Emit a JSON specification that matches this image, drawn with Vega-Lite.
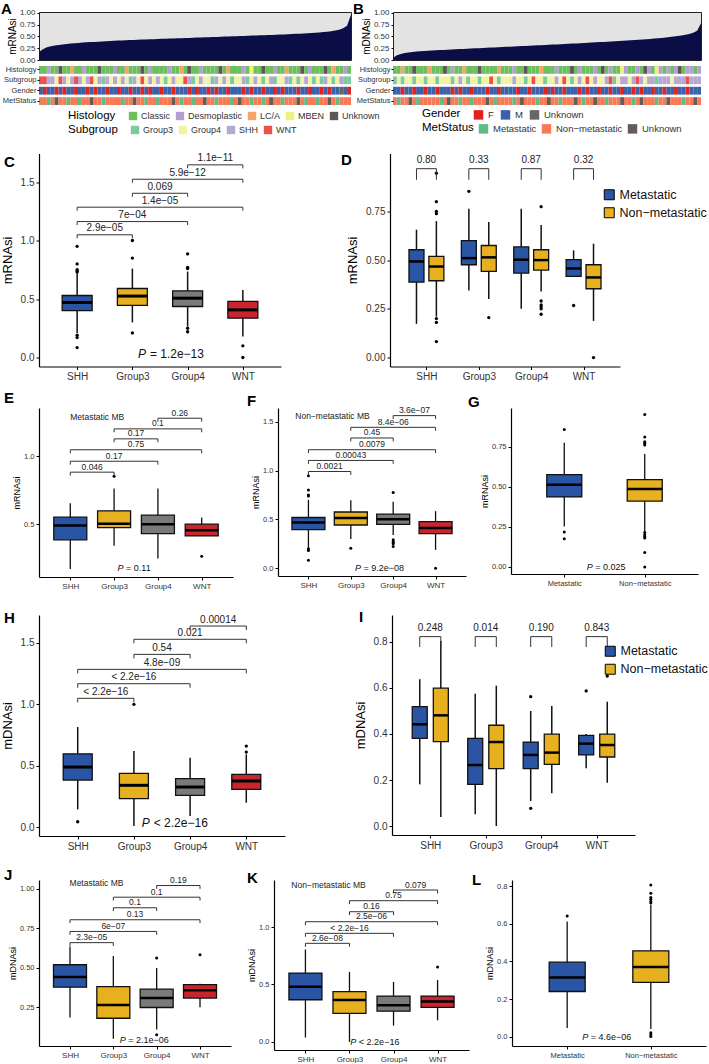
{
"$schema":"https://vega.github.io/schema/vega-lite/v6.json",
"padding":{"left":0,"top":1,"right":0,"bottom":0},
"spacing":0,
"config":{"font":"Liberation Sans","view":{"stroke":null},
"axis":{"domainColor":"#000","domainWidth":1.2,"tickColor":"#000","tickWidth":1,"tickSize":3,"labelColor":"#333","titleColor":"#000","titleFontWeight":"normal","grid":false,"labelPadding":2,"titlePadding":3},
"title":{"fontSize":15,"fontWeight":"bold","anchor":"start","frame":"group","color":"#000","offset":0,"baseline":"bottom"},
"legend":{"titleFontWeight":"normal"}},
"datasets":{
"sa":[{"i":0,"v":0.17,"h":"C","s":"W","g":"M","m":"N"},{"i":1,"v":0.23,"h":"C","s":"W","g":"F","m":"N"},{"i":2,"v":0.27,"h":"D","s":"S","g":"M","m":"M"},{"i":3,"v":0.29,"h":"C","s":"S","g":"M","m":"N"},{"i":4,"v":0.31,"h":"C","s":"4","g":"F","m":"U"},{"i":5,"v":0.32,"h":"U","s":"W","g":"M","m":"N"},{"i":6,"v":0.33,"h":"C","s":"S","g":"F","m":"N"},{"i":7,"v":0.34,"h":"C","s":"4","g":"M","m":"M"},{"i":8,"v":0.35,"h":"L","s":"S","g":"M","m":"N"},{"i":9,"v":0.355,"h":"C","s":"W","g":"F","m":"N"},
{"i":10,"v":0.36,"h":"C","s":"S","g":"M","m":"M"},{"i":11,"v":0.37,"h":"D","s":"4","g":"M","m":"N"},{"i":12,"v":0.375,"h":"C","s":"S","g":"F","m":"N"},{"i":13,"v":0.38,"h":"C","s":"W","g":"M","m":"U"},{"i":14,"v":0.385,"h":"C","s":"4","g":"F","m":"N"},{"i":15,"v":0.39,"h":"U","s":"S","g":"M","m":"N"},{"i":16,"v":0.395,"h":"C","s":"3","g":"M","m":"M"},{"i":17,"v":0.4,"h":"C","s":"S","g":"F","m":"N"},{"i":18,"v":0.405,"h":"C","s":"4","g":"M","m":"N"},{"i":19,"v":0.41,"h":"D","s":"S","g":"M","m":"N"},
{"i":20,"v":0.413,"h":"C","s":"4","g":"F","m":"N"},{"i":21,"v":0.416,"h":"C","s":"S","g":"M","m":"M"},{"i":22,"v":0.42,"h":"L","s":"4","g":"M","m":"N"},{"i":23,"v":0.423,"h":"C","s":"3","g":"F","m":"N"},{"i":24,"v":0.426,"h":"C","s":"S","g":"M","m":"U"},{"i":25,"v":0.43,"h":"C","s":"4","g":"M","m":"N"},{"i":26,"v":0.433,"h":"U","s":"W","g":"F","m":"N"},{"i":27,"v":0.436,"h":"C","s":"4","g":"M","m":"M"},{"i":28,"v":0.44,"h":"D","s":"S","g":"F","m":"N"},{"i":29,"v":0.443,"h":"C","s":"4","g":"M","m":"N"},
{"i":30,"v":0.446,"h":"C","s":"S","g":"M","m":"M"},{"i":31,"v":0.449,"h":"C","s":"4","g":"F","m":"N"},{"i":32,"v":0.452,"h":"C","s":"3","g":"M","m":"N"},{"i":33,"v":0.455,"h":"D","s":"4","g":"M","m":"N"},{"i":34,"v":0.458,"h":"C","s":"S","g":"F","m":"U"},{"i":35,"v":0.461,"h":"C","s":"4","g":"M","m":"N"},{"i":36,"v":0.464,"h":"L","s":"4","g":"M","m":"M"},{"i":37,"v":0.467,"h":"C","s":"W","g":"M","m":"N"},{"i":38,"v":0.47,"h":"U","s":"S","g":"F","m":"N"},{"i":39,"v":0.473,"h":"C","s":"3","g":"M","m":"M"},
{"i":40,"v":0.476,"h":"C","s":"4","g":"F","m":"N"},{"i":41,"v":0.479,"h":"D","s":"S","g":"M","m":"N"},{"i":42,"v":0.482,"h":"C","s":"4","g":"M","m":"U"},{"i":43,"v":0.485,"h":"C","s":"4","g":"F","m":"N"},{"i":44,"v":0.488,"h":"C","s":"3","g":"M","m":"N"},{"i":45,"v":0.491,"h":"C","s":"S","g":"F","m":"M"},{"i":46,"v":0.494,"h":"U","s":"4","g":"M","m":"N"},{"i":47,"v":0.497,"h":"C","s":"S","g":"M","m":"N"},{"i":48,"v":0.5,"h":"L","s":"4","g":"F","m":"N"},{"i":49,"v":0.503,"h":"C","s":"3","g":"M","m":"M"},
{"i":50,"v":0.506,"h":"C","s":"4","g":"M","m":"N"},{"i":51,"v":0.509,"h":"C","s":"4","g":"M","m":"U"},{"i":52,"v":0.512,"h":"D","s":"S","g":"F","m":"N"},{"i":53,"v":0.515,"h":"C","s":"3","g":"M","m":"N"},{"i":54,"v":0.518,"h":"M","s":"4","g":"F","m":"M"},{"i":55,"v":0.521,"h":"C","s":"S","g":"M","m":"N"},{"i":56,"v":0.524,"h":"C","s":"4","g":"M","m":"N"},{"i":57,"v":0.527,"h":"U","s":"3","g":"F","m":"M"},{"i":58,"v":0.53,"h":"C","s":"4","g":"M","m":"N"},{"i":59,"v":0.533,"h":"C","s":"S","g":"M","m":"U"},
{"i":60,"v":0.536,"h":"D","s":"3","g":"F","m":"N"},{"i":61,"v":0.54,"h":"C","s":"4","g":"M","m":"N"},{"i":62,"v":0.544,"h":"C","s":"4","g":"F","m":"M"},{"i":63,"v":0.548,"h":"L","s":"S","g":"M","m":"N"},{"i":64,"v":0.552,"h":"C","s":"3","g":"M","m":"N"},{"i":65,"v":0.556,"h":"C","s":"4","g":"M","m":"N"},{"i":66,"v":0.56,"h":"C","s":"3","g":"F","m":"U"},{"i":67,"v":0.565,"h":"U","s":"4","g":"M","m":"N"},{"i":68,"v":0.57,"h":"C","s":"S","g":"M","m":"M"},{"i":69,"v":0.575,"h":"D","s":"4","g":"F","m":"N"},
{"i":70,"v":0.58,"h":"C","s":"3","g":"M","m":"N"},{"i":71,"v":0.586,"h":"C","s":"4","g":"M","m":"M"},{"i":72,"v":0.593,"h":"C","s":"3","g":"F","m":"N"},{"i":73,"v":0.6,"h":"U","s":"S","g":"M","m":"N"},{"i":74,"v":0.61,"h":"C","s":"4","g":"F","m":"U"},{"i":75,"v":0.625,"h":"L","s":"3","g":"M","m":"N"},{"i":76,"v":0.645,"h":"C","s":"4","g":"M","m":"M"},{"i":77,"v":0.675,"h":"C","s":"S","g":"U","m":"N"},{"i":78,"v":0.73,"h":"D","s":"3","g":"M","m":"N"},{"i":79,"v":0.96,"h":"C","s":"3","g":"F","m":"N"}],
"sb":[{"i":0,"v":0.04,"h":"C","s":"3","g":"M","m":"N"},{"i":1,"v":0.1,"h":"C","s":"4","g":"M","m":"M"},{"i":2,"v":0.13,"h":"L","s":"3","g":"F","m":"N"},{"i":3,"v":0.15,"h":"C","s":"4","g":"M","m":"N"},{"i":4,"v":0.16,"h":"C","s":"4","g":"M","m":"U"},{"i":5,"v":0.17,"h":"U","s":"3","g":"F","m":"N"},{"i":6,"v":0.18,"h":"C","s":"4","g":"M","m":"M"},{"i":7,"v":0.185,"h":"C","s":"4","g":"M","m":"N"},{"i":8,"v":0.19,"h":"C","s":"3","g":"F","m":"N"},{"i":9,"v":0.195,"h":"L","s":"4","g":"M","m":"N"},
{"i":10,"v":0.2,"h":"C","s":"4","g":"M","m":"N"},{"i":11,"v":0.205,"h":"C","s":"3","g":"F","m":"N"},{"i":12,"v":0.21,"h":"C","s":"4","g":"M","m":"M"},{"i":13,"v":0.215,"h":"U","s":"4","g":"M","m":"N"},{"i":14,"v":0.22,"h":"C","s":"4","g":"M","m":"U"},{"i":15,"v":0.224,"h":"D","s":"3","g":"F","m":"N"},{"i":16,"v":0.228,"h":"C","s":"4","g":"M","m":"N"},{"i":17,"v":0.232,"h":"C","s":"S","g":"F","m":"M"},{"i":18,"v":0.236,"h":"L","s":"4","g":"M","m":"N"},{"i":19,"v":0.24,"h":"C","s":"3","g":"M","m":"N"},
{"i":20,"v":0.244,"h":"C","s":"4","g":"F","m":"M"},{"i":21,"v":0.248,"h":"C","s":"4","g":"M","m":"N"},{"i":22,"v":0.252,"h":"U","s":"3","g":"M","m":"N"},{"i":23,"v":0.256,"h":"C","s":"4","g":"M","m":"N"},{"i":24,"v":0.26,"h":"C","s":"4","g":"F","m":"U"},{"i":25,"v":0.264,"h":"C","s":"W","g":"M","m":"N"},{"i":26,"v":0.268,"h":"C","s":"4","g":"M","m":"M"},{"i":27,"v":0.272,"h":"L","s":"3","g":"F","m":"N"},{"i":28,"v":0.276,"h":"C","s":"4","g":"M","m":"N"},{"i":29,"v":0.28,"h":"C","s":"4","g":"M","m":"N"},
{"i":30,"v":0.284,"h":"C","s":"4","g":"M","m":"N"},{"i":31,"v":0.288,"h":"D","s":"S","g":"M","m":"M"},{"i":32,"v":0.292,"h":"C","s":"4","g":"F","m":"N"},{"i":33,"v":0.296,"h":"C","s":"4","g":"M","m":"U"},{"i":34,"v":0.3,"h":"U","s":"3","g":"M","m":"N"},{"i":35,"v":0.304,"h":"C","s":"4","g":"F","m":"N"},{"i":36,"v":0.308,"h":"C","s":"W","g":"M","m":"N"},{"i":37,"v":0.312,"h":"C","s":"4","g":"M","m":"M"},{"i":38,"v":0.316,"h":"L","s":"4","g":"M","m":"N"},{"i":39,"v":0.32,"h":"C","s":"3","g":"F","m":"N"},
{"i":40,"v":0.324,"h":"C","s":"4","g":"M","m":"U"},{"i":41,"v":0.328,"h":"C","s":"4","g":"F","m":"N"},{"i":42,"v":0.332,"h":"D","s":"S","g":"M","m":"N"},{"i":43,"v":0.336,"h":"C","s":"4","g":"M","m":"M"},{"i":44,"v":0.34,"h":"C","s":"W","g":"F","m":"N"},{"i":45,"v":0.344,"h":"C","s":"4","g":"M","m":"N"},{"i":46,"v":0.348,"h":"U","s":"3","g":"M","m":"N"},{"i":47,"v":0.352,"h":"C","s":"4","g":"M","m":"U"},{"i":48,"v":0.356,"h":"D","s":"S","g":"F","m":"N"},{"i":49,"v":0.36,"h":"C","s":"4","g":"M","m":"M"},
{"i":50,"v":0.365,"h":"C","s":"W","g":"F","m":"N"},{"i":51,"v":0.37,"h":"C","s":"4","g":"M","m":"N"},{"i":52,"v":0.375,"h":"D","s":"S","g":"M","m":"U"},{"i":53,"v":0.38,"h":"C","s":"4","g":"F","m":"N"},{"i":54,"v":0.385,"h":"U","s":"4","g":"M","m":"N"},{"i":55,"v":0.39,"h":"C","s":"S","g":"M","m":"M"},{"i":56,"v":0.395,"h":"D","s":"W","g":"F","m":"N"},{"i":57,"v":0.4,"h":"C","s":"3","g":"M","m":"N"},{"i":58,"v":0.405,"h":"C","s":"4","g":"M","m":"N"},{"i":59,"v":0.41,"h":"M","s":"S","g":"F","m":"U"},
{"i":60,"v":0.415,"h":"D","s":"S","g":"M","m":"N"},{"i":61,"v":0.42,"h":"C","s":"4","g":"M","m":"N"},{"i":62,"v":0.425,"h":"C","s":"S","g":"F","m":"M"},{"i":63,"v":0.43,"h":"D","s":"W","g":"M","m":"N"},{"i":64,"v":0.436,"h":"C","s":"S","g":"F","m":"U"},{"i":65,"v":0.442,"h":"U","s":"4","g":"M","m":"N"},{"i":66,"v":0.448,"h":"D","s":"S","g":"M","m":"N"},{"i":67,"v":0.455,"h":"C","s":"S","g":"F","m":"N"},{"i":68,"v":0.462,"h":"M","s":"3","g":"M","m":"M"},{"i":69,"v":0.47,"h":"D","s":"S","g":"M","m":"N"},
{"i":70,"v":0.478,"h":"C","s":"S","g":"F","m":"N"},{"i":71,"v":0.487,"h":"D","s":"S","g":"M","m":"U"},{"i":72,"v":0.497,"h":"C","s":"4","g":"M","m":"N"},{"i":73,"v":0.508,"h":"D","s":"S","g":"F","m":"N"},{"i":74,"v":0.52,"h":"U","s":"S","g":"M","m":"N"},{"i":75,"v":0.535,"h":"C","s":"S","g":"M","m":"M"},{"i":76,"v":0.555,"h":"D","s":"W","g":"F","m":"N"},{"i":77,"v":0.58,"h":"D","s":"S","g":"M","m":"N"},{"i":78,"v":0.62,"h":"C","s":"S","g":"M","m":"U"},{"i":79,"v":0.78,"h":"D","s":"S","g":"M","m":"N"}]
},
"vconcat":[
{"hconcat":[
  {"width":312,"height":48,"title":{"text":"A","dx":-38,"dy":12},"view":{"fill":"#e3e3e3","stroke":"#222","strokeWidth":1},"data":{"name":"sa"},"mark":{"type":"area","color":"#0b0d47","interpolate":"linear"},
   "encoding":{"x":{"field":"i","type":"quantitative","scale":{"domain":[0,79],"nice":false,"zero":false},"axis":null},"y":{"field":"v","type":"quantitative","scale":{"domain":[0,1.02],"nice":false},"axis":{"values":[0,0.25,0.5,0.75,1],"format":".2f","title":"mRNAsi","labelFontSize":8,"titleFontSize":10,"domain":false,"tickSize":2,"titlePadding":2}}}},
  {"width":308,"height":48,"title":{"text":"B","dx":-40,"dy":12},"view":{"fill":"#e3e3e3","stroke":"#222","strokeWidth":1},"data":{"name":"sb"},"mark":{"type":"area","color":"#0b0d47","interpolate":"linear"},
   "encoding":{"x":{"field":"i","type":"quantitative","scale":{"domain":[0,79],"nice":false,"zero":false},"axis":null},"y":{"field":"v","type":"quantitative","scale":{"domain":[0,1.02],"nice":false},"axis":{"values":[0,0.25,0.5,0.75,1],"format":".2f","title":"mDNAsi","labelFontSize":8,"titleFontSize":10,"domain":false,"tickSize":2,"titlePadding":2}}}}
],"spacing":42,"bounds":"flush"},
{"vconcat":[
{"hconcat":[
  {"width":312,"height":39,"data":{"name":"sa"},
   "encoding":{"x":{"field":"i","type":"ordinal","scale":{"paddingInner":0,"paddingOuter":0},"axis":null}},
   "layer":[
    {"mark":"rect","encoding":{"y":{"datum":"Histology","type":"nominal","scale":{"domain":["Histology","Subgroup","Gender","MetStatus"],"paddingInner":0.25,"paddingOuter":0},"axis":{"title":null,"labelFontSize":7.5,"tickSize":2,"domain":false,"labelPadding":1}},
     "color":{"field":"h","type":"nominal","scale":{"domain":["C","D","L","M","U"],"range":["#6cbf5c","#b59fd1","#f5a46c","#eef27c","#5e5656"]},"legend":{"title":"Histology","orient":"none","legendX":29,"legendY":45,"direction":"horizontal","titleOrient":"left","titleFontSize":11.5,"titlePadding":12,"titleColor":"#000","labelFontSize":9,"labelColor":"#333","symbolType":"square","symbolSize":70,"columnPadding":4,"labelOffset":3,"labelExpr":"datum.label=='C'?'Classic':datum.label=='D'?'Desmoplastic':datum.label=='L'?'LC/A':datum.label=='M'?'MBEN':'Unknown'"}}}},
    {"mark":"rect","encoding":{"y":{"datum":"Subgroup","type":"nominal"},"color":{"field":"s","type":"nominal","scale":{"domain":["3","4","S","W"],"range":["#7ccb9f","#f2f2a2","#b6a8d4","#ee4f4c"]},"legend":{"title":"Subgroup","orient":"none","legendX":29,"legendY":59,"direction":"horizontal","titleOrient":"left","titleFontSize":11.5,"titlePadding":12,"titleColor":"#000","labelFontSize":9,"labelColor":"#333","symbolType":"square","symbolSize":70,"columnPadding":4,"labelOffset":3,"labelExpr":"datum.label=='3'?'Group3':datum.label=='4'?'Group4':datum.label=='S'?'SHH':'WNT'"}}}},
    {"mark":"rect","encoding":{"y":{"datum":"Gender","type":"nominal"},"color":{"field":"g","type":"nominal","scale":{"domain":["F","M","U"],"range":["#e3201c","#3b61aa","#666666"]},"legend":null}}},
    {"mark":"rect","encoding":{"y":{"datum":"MetStatus","type":"nominal"},"color":{"field":"m","type":"nominal","scale":{"domain":["M","N","U"],"range":["#61bb86","#f87a55","#645c5c"]},"legend":null}}}
   ],
   "resolve":{"scale":{"color":"independent"},"legend":{"color":"independent"}}},
  {"width":308,"height":39,"data":{"name":"sb"},
   "encoding":{"x":{"field":"i","type":"ordinal","scale":{"paddingInner":0,"paddingOuter":0},"axis":null}},
   "layer":[
    {"mark":"rect","encoding":{"y":{"datum":"Histology","type":"nominal","scale":{"domain":["Histology","Subgroup","Gender","MetStatus"],"paddingInner":0.25,"paddingOuter":0},"axis":{"title":null,"labelFontSize":7.5,"tickSize":2,"domain":false,"labelPadding":1}},
     "color":{"field":"h","type":"nominal","scale":{"domain":["C","D","L","M","U"],"range":["#6cbf5c","#b59fd1","#f5a46c","#eef27c","#5e5656"]},"legend":null}}},
    {"mark":"rect","encoding":{"y":{"datum":"Subgroup","type":"nominal"},"color":{"field":"s","type":"nominal","scale":{"domain":["3","4","S","W"],"range":["#7ccb9f","#f2f2a2","#b6a8d4","#ee4f4c"]},"legend":null}}},
    {"mark":"rect","encoding":{"y":{"datum":"Gender","type":"nominal"},"color":{"field":"g","type":"nominal","scale":{"domain":["F","M","U"],"range":["#e3201c","#3b61aa","#666666"]},"legend":{"title":"Gender","orient":"none","legendX":29,"legendY":43,"direction":"horizontal","titleOrient":"left","titleFontSize":11.5,"titlePadding":12,"titleColor":"#000","labelFontSize":9.5,"labelColor":"#333","symbolType":"square","symbolSize":90,"columnPadding":6,"labelOffset":4,"labelExpr":"datum.label=='F'?'F':datum.label=='M'?'M':'Unknown'"}}}},
    {"mark":"rect","encoding":{"y":{"datum":"MetStatus","type":"nominal"},"color":{"field":"m","type":"nominal","scale":{"domain":["M","N","U"],"range":["#61bb86","#f87a55","#645c5c"]},"legend":{"title":"MetStatus","orient":"none","legendX":29,"legendY":57,"direction":"horizontal","titleOrient":"left","titleFontSize":11.5,"titlePadding":4,"titleColor":"#000","labelFontSize":9.5,"labelColor":"#333","symbolType":"square","symbolSize":90,"columnPadding":4,"labelOffset":4,"labelExpr":"datum.label=='M'?'Metastatic':datum.label=='N'?'Non−metastatic':'Unknown'"}}}}
   ],
   "resolve":{"scale":{"color":"independent"},"legend":{"color":"independent"}}}
],"spacing":42,"bounds":"flush"},
{"vconcat":[
 {"hconcat":[
  {"width":242,"height":213,"title":{"text":"C","dx":-35,"dy":20.5},
   "data":{"values":[{"g":"SHH","x":1,"lo":0.21,"q1":0.4,"med":0.47,"q3":0.53,"hi":0.72},{"g":"Group3","x":2,"lo":0.3,"q1":0.445,"med":0.525,"q3":0.59,"hi":0.76},{"g":"Group4","x":3,"lo":0.265,"q1":0.436,"med":0.507,"q3":0.57,"hi":0.735},{"g":"WNT","x":4,"lo":0.18,"q1":0.336,"med":0.407,"q3":0.48,"hi":0.578}]},
   "layer":[
    {"mark":{"type":"rule","color":"#111","strokeWidth":1.5},"encoding":{"x":{"field":"x","type":"quantitative","scale":{"domain":[0.4,4.6],"nice":false,"zero":false},"axis":{"values":[1,2,3,4],"labelExpr":"['','SHH','Group3','Group4','WNT'][datum.value]","title":null,"labelFontSize":10}},"y":{"field":"lo","type":"quantitative","scale":{"domain":[-0.077,1.744],"nice":false,"zero":false},"axis":{"values":[0,0.5,1,1.5],"format":".1f","title":"mRNAsi","labelFontSize":10,"titleFontSize":13,"titlePadding":6}},"y2":{"field":"hi"}}},
    {"mark":{"type":"bar","width":30,"stroke":"#111","strokeWidth":1.3,"opacity":1},"encoding":{"x":{"field":"x","type":"quantitative"},"y":{"field":"q1","type":"quantitative"},"y2":{"field":"q3"},"color":{"field":"g","type":"nominal","scale":{"domain":["SHH","Group3","Group4","WNT"],"range":["#2a55a4","#e6b01e","#7a7a7a","#c8262c"]},"legend":null}}},
    {"mark":{"type":"tick","orient":"horizontal","size":30,"thickness":3,"color":"#000","opacity":1},"encoding":{"x":{"field":"x","type":"quantitative"},"y":{"field":"med","type":"quantitative"}}},
    {"data":{"values":[{"x":1,"v":0.95},{"x":1,"v":0.8},{"x":1,"v":0.75},{"x":1,"v":0.74},{"x":1,"v":0.73},{"x":1,"v":0.19},{"x":1,"v":0.17},{"x":1,"v":0.085},{"x":2,"v":1.0},{"x":2,"v":0.85},{"x":2,"v":0.21},{"x":3,"v":0.886},{"x":3,"v":0.77},{"x":3,"v":0.76},{"x":3,"v":0.25},{"x":3,"v":0.22},{"x":4,"v":0.1},{"x":4,"v":0.0}]},"mark":{"type":"circle","size":11,"color":"#000","opacity":1},"encoding":{"x":{"field":"x","type":"quantitative"},"y":{"field":"v","type":"quantitative"}}},
    {"data":{"values":[{"x1":1,"x2":2,"xm":1.5,"y":1.049,"yt":1.019,"label":"2.9e−05"},{"x1":1,"x2":3,"xm":2,"y":1.162,"yt":1.132,"label":"7e−04"},{"x1":1,"x2":4,"xm":2.5,"y":1.285,"yt":1.255,"label":"1.4e−05"},{"x1":2,"x2":3,"xm":2.5,"y":1.404,"yt":1.374,"label":"0.069"},{"x1":2,"x2":4,"xm":3,"y":1.524,"yt":1.494,"label":"5.9e−12"},{"x1":3,"x2":4,"xm":3.5,"y":1.647,"yt":1.617,"label":"1.1e−11"}]},
     "layer":[
      {"mark":{"type":"rule","color":"#333","strokeWidth":1},"encoding":{"x":{"field":"x1","type":"quantitative"},"x2":{"field":"x2"},"y":{"field":"y","type":"quantitative"}}},
      {"mark":{"type":"rule","color":"#333","strokeWidth":1},"encoding":{"x":{"field":"x1","type":"quantitative"},"y":{"field":"y","type":"quantitative"},"y2":{"field":"yt"}}},
      {"mark":{"type":"rule","color":"#333","strokeWidth":1},"encoding":{"x":{"field":"x2","type":"quantitative"},"y":{"field":"y","type":"quantitative"},"y2":{"field":"yt"}}},
      {"mark":{"type":"text","baseline":"bottom","dy":-1.5,"fontSize":10,"color":"#222"},"encoding":{"x":{"field":"xm","type":"quantitative"},"y":{"field":"y","type":"quantitative"},"text":{"field":"label"}}}]},
    {"data":{"values":[{"x":2.1,"y":0.03,"p":"P","t":"= 1.2e−13"}]},
     "layer":[
      {"mark":{"type":"text","align":"left","baseline":"middle","fontSize":12,"fontStyle":"italic","color":"#111"},"encoding":{"x":{"field":"x","type":"quantitative"},"y":{"field":"y","type":"quantitative"},"text":{"field":"p"}}},
      {"mark":{"type":"text","align":"left","baseline":"middle","fontSize":12,"dx":12,"color":"#111"},"encoding":{"x":{"field":"x","type":"quantitative"},"y":{"field":"y","type":"quantitative"},"text":{"field":"t"}}}]}
   ]},
  {"width":230,"height":213,"title":{"text":"D","dx":-49,"dy":18.5},
   "data":{"values":[{"g":"SHH","m":"Metastatic","x":0.81,"lo":0.173,"q1":0.387,"med":0.493,"q3":0.553,"hi":0.656},{"g":"SHH","m":"Non−metastatic","x":1.19,"lo":0.21,"q1":0.394,"med":0.467,"q3":0.519,"hi":0.7},{"g":"Group3","m":"Metastatic","x":1.81,"lo":0.344,"q1":0.476,"med":0.51,"q3":0.6,"hi":0.764},{"g":"Group3","m":"Non−metastatic","x":2.19,"lo":0.3,"q1":0.442,"med":0.514,"q3":0.575,"hi":0.695},{"g":"Group4","m":"Metastatic","x":2.81,"lo":0.25,"q1":0.433,"med":0.502,"q3":0.568,"hi":0.764},{"g":"Group4","m":"Non−metastatic","x":3.19,"lo":0.339,"q1":0.449,"med":0.5,"q3":0.553,"hi":0.68},{"g":"WNT","m":"Metastatic","x":3.81,"lo":0.415,"q1":0.416,"med":0.457,"q3":0.502,"hi":0.55},{"g":"WNT","m":"Non−metastatic","x":4.19,"lo":0.188,"q1":0.353,"med":0.411,"q3":0.476,"hi":0.584}]},
   "resolve":{"scale":{"color":"independent"},"legend":{"color":"independent"}},
   "layer":[
    {"mark":{"type":"rule","color":"#111","strokeWidth":1.5},"encoding":{"x":{"field":"x","type":"quantitative","scale":{"domain":[0.4,4.6],"nice":false,"zero":false},"axis":{"values":[1,2,3,4],"labelExpr":"['','SHH','Group3','Group4','WNT'][datum.value]","title":null,"labelFontSize":10}},"y":{"field":"lo","type":"quantitative","scale":{"domain":[-0.046,1.047],"nice":false,"zero":false},"axis":{"values":[0,0.25,0.5,0.75],"format":".2f","title":"mRNAsi","labelFontSize":10,"titleFontSize":13,"titlePadding":6}},"y2":{"field":"hi"}}},
    {"mark":{"type":"bar","width":15,"stroke":"#111","strokeWidth":1.3,"opacity":1},"encoding":{"x":{"field":"x","type":"quantitative"},"y":{"field":"q1","type":"quantitative"},"y2":{"field":"q3"},"color":{"field":"m","type":"nominal","scale":{"domain":["Metastatic","Non−metastatic"],"range":["#2a55a4","#e6b01e"]},"legend":{"title":null,"orient":"none","legendX":213,"legendY":35,"labelFontSize":12.5,"labelColor":"#111","symbolType":"square","symbolSize":100,"symbolStrokeColor":"#000","symbolStrokeWidth":1,"rowPadding":3,"labelLimit":200}}}},
    {"mark":{"type":"tick","orient":"horizontal","size":15,"thickness":2.5,"color":"#000","opacity":1},"encoding":{"x":{"field":"x","type":"quantitative"},"y":{"field":"med","type":"quantitative"}}},
    {"data":{"values":[{"x":1.19,"v":0.946},{"x":1.19,"v":0.8},{"x":1.19,"v":0.75},{"x":1.19,"v":0.738},{"x":1.19,"v":0.2},{"x":1.19,"v":0.18},{"x":1.19,"v":0.082},{"x":1.81,"v":0.853},{"x":2.19,"v":0.205},{"x":3.19,"v":0.774},{"x":3.19,"v":0.29},{"x":3.19,"v":0.27},{"x":3.19,"v":0.26},{"x":3.19,"v":0.25},{"x":3.19,"v":0.222},{"x":3.81,"v":0.267},{"x":4.19,"v":0.0}]},"mark":{"type":"circle","size":11,"color":"#000","opacity":1},"encoding":{"x":{"field":"x","type":"quantitative"},"y":{"field":"v","type":"quantitative"}}},
    {"data":{"values":[{"x1":0.81,"x2":1.19,"xm":1,"y":0.969,"yt":0.912,"label":"0.80"},{"x1":1.81,"x2":2.19,"xm":2,"y":0.969,"yt":0.912,"label":"0.33"},{"x1":2.81,"x2":3.19,"xm":3,"y":0.969,"yt":0.912,"label":"0.87"},{"x1":3.81,"x2":4.19,"xm":4,"y":0.969,"yt":0.912,"label":"0.32"}]},
     "layer":[
      {"mark":{"type":"rule","color":"#333","strokeWidth":1},"encoding":{"x":{"field":"x1","type":"quantitative"},"x2":{"field":"x2"},"y":{"field":"y","type":"quantitative"}}},
      {"mark":{"type":"rule","color":"#333","strokeWidth":1},"encoding":{"x":{"field":"x1","type":"quantitative"},"y":{"field":"y","type":"quantitative"},"y2":{"field":"yt"}}},
      {"mark":{"type":"rule","color":"#333","strokeWidth":1},"encoding":{"x":{"field":"x2","type":"quantitative"},"y":{"field":"y","type":"quantitative"},"y2":{"field":"yt"}}},
      {"mark":{"type":"text","baseline":"bottom","dy":-4,"fontSize":10,"color":"#222"},"encoding":{"x":{"field":"xm","type":"quantitative"},"y":{"field":"y","type":"quantitative"},"text":{"field":"label"}}}]}
   ]}
 ],"spacing":109,"bounds":"flush"},
 {"vconcat":[
  {"hconcat":[
   {"width":194,"height":169,"title":{"text":"E","dx":-35,"dy":1.5},
    "data":{"values":[{"g":"SHH","x":1,"lo":0.173,"q1":0.387,"med":0.493,"q3":0.553,"hi":0.656},{"g":"Group3","x":2,"lo":0.344,"q1":0.476,"med":0.505,"q3":0.6,"hi":0.764},{"g":"Group4","x":3,"lo":0.25,"q1":0.433,"med":0.502,"q3":0.568,"hi":0.764},{"g":"WNT","x":4,"lo":0.415,"q1":0.416,"med":0.457,"q3":0.502,"hi":0.55}]},
    "layer":[
     {"mark":{"type":"rule","color":"#111","strokeWidth":1.3},"encoding":{"x":{"field":"x","type":"quantitative","scale":{"domain":[0.4,4.6],"nice":false,"zero":false},"axis":{"values":[1,2,3,4],"labelExpr":"['','SHH','Group3','Group4','WNT'][datum.value]","title":null,"labelFontSize":8}},"y":{"field":"lo","type":"quantitative","scale":{"domain":[0.115,1.353],"nice":false,"zero":false},"axis":{"values":[0.5,1],"format":".1f","title":"mRNAsi","labelFontSize":7.5,"titleFontSize":9,"titlePadding":2}},"y2":{"field":"hi"}}},
     {"mark":{"type":"bar","width":33,"stroke":"#111","strokeWidth":1.3,"opacity":1},"encoding":{"x":{"field":"x","type":"quantitative"},"y":{"field":"q1","type":"quantitative"},"y2":{"field":"q3"},"color":{"field":"g","type":"nominal","scale":{"domain":["SHH","Group3","Group4","WNT"],"range":["#2a55a4","#e6b01e","#7a7a7a","#c8262c"]},"legend":null}}},
     {"mark":{"type":"tick","orient":"horizontal","size":33,"thickness":2.5,"color":"#000","opacity":1},"encoding":{"x":{"field":"x","type":"quantitative"},"y":{"field":"med","type":"quantitative"}}},
     {"data":{"values":[{"x":2,"v":0.853},{"x":4,"v":0.267}]},"mark":{"type":"circle","size":9,"color":"#000","opacity":1},"encoding":{"x":{"field":"x","type":"quantitative"},"y":{"field":"v","type":"quantitative"}}},
     {"data":{"values":[{"x1":1,"x2":2,"xm":1.5,"y":0.883,"yt":0.858,"label":"0.046"},{"x1":1,"x2":3,"xm":2,"y":0.963,"yt":0.938,"label":"0.17"},{"x1":1,"x2":4,"xm":2.5,"y":1.047,"yt":1.022,"label":"0.75"},{"x1":2,"x2":3,"xm":2.5,"y":1.127,"yt":1.102,"label":"0.17"},{"x1":2,"x2":4,"xm":3,"y":1.2,"yt":1.175,"label":"0.1"},{"x1":3,"x2":4,"xm":3.5,"y":1.278,"yt":1.253,"label":"0.26"}]},
      "layer":[
       {"mark":{"type":"rule","color":"#333","strokeWidth":1},"encoding":{"x":{"field":"x1","type":"quantitative"},"x2":{"field":"x2"},"y":{"field":"y","type":"quantitative"}}},
       {"mark":{"type":"rule","color":"#333","strokeWidth":1},"encoding":{"x":{"field":"x1","type":"quantitative"},"y":{"field":"y","type":"quantitative"},"y2":{"field":"yt"}}},
       {"mark":{"type":"rule","color":"#333","strokeWidth":1},"encoding":{"x":{"field":"x2","type":"quantitative"},"y":{"field":"y","type":"quantitative"},"y2":{"field":"yt"}}},
       {"mark":{"type":"text","baseline":"bottom","dy":-0.5,"fontSize":8.5,"color":"#222"},"encoding":{"x":{"field":"xm","type":"quantitative"},"y":{"field":"y","type":"quantitative"},"text":{"field":"label"}}}]},
     {"data":{"values":[{"x":1.0,"y":1.285,"t":"Metastatic MB"}]},"mark":{"type":"text","align":"left","baseline":"middle","fontSize":8.5,"color":"#222"},"encoding":{"x":{"field":"x","type":"quantitative"},"y":{"field":"y","type":"quantitative"},"text":{"field":"t"}}},
     {"data":{"values":[{"x":2.08,"y":0.18,"p":"P","t":"= 0.11"}]},
      "layer":[
       {"mark":{"type":"text","align":"left","baseline":"middle","fontSize":9,"fontStyle":"italic","color":"#111"},"encoding":{"x":{"field":"x","type":"quantitative"},"y":{"field":"y","type":"quantitative"},"text":{"field":"p"}}},
       {"mark":{"type":"text","align":"left","baseline":"middle","fontSize":9,"dx":8.5,"color":"#111"},"encoding":{"x":{"field":"x","type":"quantitative"},"y":{"field":"y","type":"quantitative"},"text":{"field":"t"}}}]}
    ]},
   {"width":188,"height":168,"title":{"text":"F","dx":-31,"dy":7},
    "data":{"values":[{"g":"SHH","x":1,"lo":0.21,"q1":0.394,"med":0.467,"q3":0.519,"hi":0.7},{"g":"Group3","x":2,"lo":0.3,"q1":0.442,"med":0.514,"q3":0.575,"hi":0.695},{"g":"Group4","x":3,"lo":0.339,"q1":0.449,"med":0.5,"q3":0.553,"hi":0.68},{"g":"WNT","x":4,"lo":0.188,"q1":0.353,"med":0.411,"q3":0.476,"hi":0.584}]},
    "layer":[
     {"mark":{"type":"rule","color":"#111","strokeWidth":1.3},"encoding":{"x":{"field":"x","type":"quantitative","scale":{"domain":[0.4,4.6],"nice":false,"zero":false},"axis":{"values":[1,2,3,4],"labelExpr":"['','SHH','Group3','Group4','WNT'][datum.value]","title":null,"labelFontSize":8}},"y":{"field":"lo","type":"quantitative","scale":{"domain":[-0.08,1.64],"nice":false,"zero":false},"axis":{"values":[0,0.5,1,1.5],"format":".1f","title":"mRNAsi","labelFontSize":7.5,"titleFontSize":9,"titlePadding":2}},"y2":{"field":"hi"}}},
     {"mark":{"type":"bar","width":33,"stroke":"#111","strokeWidth":1.3,"opacity":1},"encoding":{"x":{"field":"x","type":"quantitative"},"y":{"field":"q1","type":"quantitative"},"y2":{"field":"q3"},"color":{"field":"g","type":"nominal","scale":{"domain":["SHH","Group3","Group4","WNT"],"range":["#2a55a4","#e6b01e","#7a7a7a","#c8262c"]},"legend":null}}},
     {"mark":{"type":"tick","orient":"horizontal","size":33,"thickness":2.5,"color":"#000","opacity":1},"encoding":{"x":{"field":"x","type":"quantitative"},"y":{"field":"med","type":"quantitative"}}},
     {"data":{"values":[{"x":1,"v":0.946},{"x":1,"v":0.8},{"x":1,"v":0.75},{"x":1,"v":0.738},{"x":1,"v":0.2},{"x":1,"v":0.18},{"x":1,"v":0.082},{"x":2,"v":0.205},{"x":3,"v":0.774},{"x":3,"v":0.29},{"x":3,"v":0.27},{"x":3,"v":0.26},{"x":3,"v":0.25},{"x":3,"v":0.222},{"x":4,"v":0.0}]},"mark":{"type":"circle","size":9,"color":"#000","opacity":1},"encoding":{"x":{"field":"x","type":"quantitative"},"y":{"field":"v","type":"quantitative"}}},
     {"data":{"values":[{"x1":1,"x2":2,"xm":1.5,"y":0.99,"yt":0.955,"label":"0.0021"},{"x1":1,"x2":3,"xm":2,"y":1.103,"yt":1.068,"label":"0.00043"},{"x1":1,"x2":4,"xm":2.5,"y":1.213,"yt":1.178,"label":"0.0079"},{"x1":2,"x2":3,"xm":2.5,"y":1.333,"yt":1.298,"label":"0.45"},{"x1":2,"x2":4,"xm":3,"y":1.442,"yt":1.407,"label":"8.4e−06"},{"x1":3,"x2":4,"xm":3.5,"y":1.562,"yt":1.527,"label":"3.6e−07"}]},
      "layer":[
       {"mark":{"type":"rule","color":"#333","strokeWidth":1},"encoding":{"x":{"field":"x1","type":"quantitative"},"x2":{"field":"x2"},"y":{"field":"y","type":"quantitative"}}},
       {"mark":{"type":"rule","color":"#333","strokeWidth":1},"encoding":{"x":{"field":"x1","type":"quantitative"},"y":{"field":"y","type":"quantitative"},"y2":{"field":"yt"}}},
       {"mark":{"type":"rule","color":"#333","strokeWidth":1},"encoding":{"x":{"field":"x2","type":"quantitative"},"y":{"field":"y","type":"quantitative"},"y2":{"field":"yt"}}},
       {"mark":{"type":"text","baseline":"bottom","dy":-0.5,"fontSize":8.5,"color":"#222"},"encoding":{"x":{"field":"xm","type":"quantitative"},"y":{"field":"y","type":"quantitative"},"text":{"field":"label"}}}]},
     {"data":{"values":[{"x":0.69,"y":1.555,"t":"Non−metastatic MB"}]},"mark":{"type":"text","align":"left","baseline":"middle","fontSize":8.5,"color":"#222"},"encoding":{"x":{"field":"x","type":"quantitative"},"y":{"field":"y","type":"quantitative"},"text":{"field":"t"}}},
     {"data":{"values":[{"x":2.1,"y":0.0,"p":"P","t":"= 9.2e−08"}]},
      "layer":[
       {"mark":{"type":"text","align":"left","baseline":"middle","fontSize":9,"fontStyle":"italic","color":"#111"},"encoding":{"x":{"field":"x","type":"quantitative"},"y":{"field":"y","type":"quantitative"},"text":{"field":"p"}}},
       {"mark":{"type":"text","align":"left","baseline":"middle","fontSize":9,"dx":8.5,"color":"#111"},"encoding":{"x":{"field":"x","type":"quantitative"},"y":{"field":"y","type":"quantitative"},"text":{"field":"t"}}}]}
    ]},
   {"width":187,"height":166,"title":{"text":"G","dx":-43,"dy":5.5},
    "data":{"values":[{"m":"Metastatic","x":1,"lo":0.252,"q1":0.436,"med":0.512,"q3":0.575,"hi":0.773},{"m":"Non−metastatic","x":2,"lo":0.22,"q1":0.41,"med":0.486,"q3":0.544,"hi":0.704}]},
    "layer":[
     {"mark":{"type":"rule","color":"#111","strokeWidth":1.3},"encoding":{"x":{"field":"x","type":"quantitative","scale":{"domain":[0.4,2.6],"nice":false,"zero":false},"axis":{"values":[1,2],"labelExpr":"['','Metastatic','Non−metastatic'][datum.value]","title":null,"labelFontSize":7.5}},"y":{"field":"lo","type":"quantitative","scale":{"domain":[-0.044,0.99],"nice":false,"zero":false},"axis":{"values":[0,0.25,0.5,0.75],"format":".2f","title":"mRNAsi","labelFontSize":7.5,"titleFontSize":9,"titlePadding":2}},"y2":{"field":"hi"}}},
     {"mark":{"type":"bar","width":35,"stroke":"#111","strokeWidth":1.3,"opacity":1},"encoding":{"x":{"field":"x","type":"quantitative"},"y":{"field":"q1","type":"quantitative"},"y2":{"field":"q3"},"color":{"field":"m","type":"nominal","scale":{"domain":["Metastatic","Non−metastatic"],"range":["#2a55a4","#e6b01e"]},"legend":null}}},
     {"mark":{"type":"tick","orient":"horizontal","size":35,"thickness":2.5,"color":"#000","opacity":1},"encoding":{"x":{"field":"x","type":"quantitative"},"y":{"field":"med","type":"quantitative"}}},
     {"data":{"values":[{"x":1,"v":0.856},{"x":1,"v":0.217},{"x":1,"v":0.175},{"x":2,"v":0.95},{"x":2,"v":0.81},{"x":2,"v":0.78},{"x":2,"v":0.77},{"x":2,"v":0.76},{"x":2,"v":0.214},{"x":2,"v":0.2},{"x":2,"v":0.19},{"x":2,"v":0.18},{"x":2,"v":0.09},{"x":2,"v":0.0}]},"mark":{"type":"circle","size":9,"color":"#000","opacity":1},"encoding":{"x":{"field":"x","type":"quantitative"},"y":{"field":"v","type":"quantitative"}}},
     {"data":{"values":[{"x":1.28,"y":0.0,"p":"P","t":"= 0.025"}]},
      "layer":[
       {"mark":{"type":"text","align":"left","baseline":"middle","fontSize":9,"fontStyle":"italic","color":"#111"},"encoding":{"x":{"field":"x","type":"quantitative"},"y":{"field":"y","type":"quantitative"},"text":{"field":"p"}}},
       {"mark":{"type":"text","align":"left","baseline":"middle","fontSize":9,"dx":8.5,"color":"#111"},"encoding":{"x":{"field":"x","type":"quantitative"},"y":{"field":"y","type":"quantitative"},"text":{"field":"t"}}}]}
    ]}
  ],"spacing":45,"bounds":"flush"},
  {"vconcat":[
   {"hconcat":[
    {"width":246,"height":221,"title":{"text":"H","dx":-35,"dy":15.5},
     "data":{"values":[{"g":"SHH","x":1,"lo":0.144,"q1":0.383,"med":0.489,"q3":0.597,"hi":0.815},{"g":"Group3","x":2,"lo":0.008,"q1":0.231,"med":0.34,"q3":0.437,"hi":0.62},{"g":"Group4","x":3,"lo":0.09,"q1":0.258,"med":0.326,"q3":0.394,"hi":0.565},{"g":"WNT","x":4,"lo":0.198,"q1":0.307,"med":0.375,"q3":0.43,"hi":0.592}]},
     "layer":[
      {"mark":{"type":"rule","color":"#111","strokeWidth":1.5},"encoding":{"x":{"field":"x","type":"quantitative","scale":{"domain":[0.4,4.6],"nice":false,"zero":false},"axis":{"values":[1,2,3,4],"labelExpr":"['','SHH','Group3','Group4','WNT'][datum.value]","title":null,"labelFontSize":10}},"y":{"field":"lo","type":"quantitative","scale":{"domain":[-0.073,1.728],"nice":false,"zero":false},"axis":{"values":[0,0.5,1,1.5],"format":".1f","title":"mDNAsi","labelFontSize":10,"titleFontSize":13,"titlePadding":6}},"y2":{"field":"hi"}}},
      {"mark":{"type":"bar","width":29,"stroke":"#111","strokeWidth":1.3,"opacity":1},"encoding":{"x":{"field":"x","type":"quantitative"},"y":{"field":"q1","type":"quantitative"},"y2":{"field":"q3"},"color":{"field":"g","type":"nominal","scale":{"domain":["SHH","Group3","Group4","WNT"],"range":["#2a55a4","#e6b01e","#7a7a7a","#c8262c"]},"legend":null}}},
      {"mark":{"type":"tick","orient":"horizontal","size":29,"thickness":3,"color":"#000","opacity":1},"encoding":{"x":{"field":"x","type":"quantitative"},"y":{"field":"med","type":"quantitative"}}},
      {"data":{"values":[{"x":1,"v":0.043},{"x":2,"v":1.0},{"x":4,"v":0.66},{"x":4,"v":0.611}]},"mark":{"type":"circle","size":11,"color":"#000","opacity":1},"encoding":{"x":{"field":"x","type":"quantitative"},"y":{"field":"v","type":"quantitative"}}},
      {"data":{"values":[{"x1":1,"x2":2,"xm":1.5,"y":1.049,"yt":1.016,"label":"< 2.2e−16"},{"x1":1,"x2":3,"xm":2,"y":1.168,"yt":1.135,"label":"< 2.2e−16"},{"x1":1,"x2":4,"xm":2.5,"y":1.285,"yt":1.252,"label":"4.8e−09"},{"x1":2,"x2":3,"xm":2.5,"y":1.407,"yt":1.374,"label":"0.54"},{"x1":2,"x2":4,"xm":3,"y":1.53,"yt":1.497,"label":"0.021"},{"x1":3,"x2":4,"xm":3.5,"y":1.638,"yt":1.605,"label":"0.00014"}]},
       "layer":[
        {"mark":{"type":"rule","color":"#333","strokeWidth":1},"encoding":{"x":{"field":"x1","type":"quantitative"},"x2":{"field":"x2"},"y":{"field":"y","type":"quantitative"}}},
        {"mark":{"type":"rule","color":"#333","strokeWidth":1},"encoding":{"x":{"field":"x1","type":"quantitative"},"y":{"field":"y","type":"quantitative"},"y2":{"field":"yt"}}},
        {"mark":{"type":"rule","color":"#333","strokeWidth":1},"encoding":{"x":{"field":"x2","type":"quantitative"},"y":{"field":"y","type":"quantitative"},"y2":{"field":"yt"}}},
        {"mark":{"type":"text","baseline":"bottom","dy":-1.5,"fontSize":10,"color":"#222"},"encoding":{"x":{"field":"xm","type":"quantitative"},"y":{"field":"y","type":"quantitative"},"text":{"field":"label"}}}]},
      {"data":{"values":[{"x":2.14,"y":0.035,"p":"P","t":"< 2.2e−16"}]},
       "layer":[
        {"mark":{"type":"text","align":"left","baseline":"middle","fontSize":12,"fontStyle":"italic","color":"#111"},"encoding":{"x":{"field":"x","type":"quantitative"},"y":{"field":"y","type":"quantitative"},"text":{"field":"p"}}},
        {"mark":{"type":"text","align":"left","baseline":"middle","fontSize":12,"dx":12,"color":"#111"},"encoding":{"x":{"field":"x","type":"quantitative"},"y":{"field":"y","type":"quantitative"},"text":{"field":"t"}}}]}
     ]},
    {"width":243,"height":220,"title":{"text":"I","dx":-33,"dy":14},
     "data":{"values":[{"g":"SHH","m":"Metastatic","x":0.81,"lo":0.181,"q1":0.381,"med":0.442,"q3":0.519,"hi":0.638},{"g":"SHH","m":"Non−metastatic","x":1.19,"lo":0.039,"q1":0.367,"med":0.481,"q3":0.599,"hi":0.804},{"g":"Group3","m":"Metastatic","x":1.81,"lo":0.051,"q1":0.181,"med":0.265,"q3":0.381,"hi":0.575},{"g":"Group3","m":"Non−metastatic","x":2.19,"lo":0.0,"q1":0.249,"med":0.365,"q3":0.438,"hi":0.61},{"g":"Group4","m":"Metastatic","x":2.81,"lo":0.109,"q1":0.249,"med":0.309,"q3":0.365,"hi":0.5},{"g":"Group4","m":"Non−metastatic","x":3.19,"lo":0.142,"q1":0.268,"med":0.319,"q3":0.399,"hi":0.522},{"g":"WNT","m":"Metastatic","x":3.81,"lo":0.251,"q1":0.309,"med":0.358,"q3":0.394,"hi":0.4},{"g":"WNT","m":"Non−metastatic","x":4.19,"lo":0.188,"q1":0.3,"med":0.352,"q3":0.399,"hi":0.54}]},
     "resolve":{"scale":{"color":"independent"},"legend":{"color":"independent"}},
     "layer":[
      {"mark":{"type":"rule","color":"#111","strokeWidth":1.5},"encoding":{"x":{"field":"x","type":"quantitative","scale":{"domain":[0.4,4.6],"nice":false,"zero":false},"axis":{"values":[1,2,3,4],"labelExpr":"['','SHH','Group3','Group4','WNT'][datum.value]","title":null,"labelFontSize":10}},"y":{"field":"lo","type":"quantitative","scale":{"domain":[-0.039,0.917],"nice":false,"zero":false},"axis":{"values":[0,0.2,0.4,0.6,0.8],"format":".1f","title":"mDNAsi","labelFontSize":10,"titleFontSize":13,"titlePadding":6}},"y2":{"field":"hi"}}},
      {"mark":{"type":"bar","width":15,"stroke":"#111","strokeWidth":1.3,"opacity":1},"encoding":{"x":{"field":"x","type":"quantitative"},"y":{"field":"q1","type":"quantitative"},"y2":{"field":"q3"},"color":{"field":"m","type":"nominal","scale":{"domain":["Metastatic","Non−metastatic"],"range":["#2a55a4","#e6b01e"]},"legend":{"title":null,"orient":"none","legendX":212,"legendY":30,"labelFontSize":12.5,"labelColor":"#111","symbolType":"square","symbolSize":100,"symbolStrokeColor":"#000","symbolStrokeWidth":1,"rowPadding":3,"labelLimit":200}}}},
      {"mark":{"type":"tick","orient":"horizontal","size":15,"thickness":2.5,"color":"#000","opacity":1},"encoding":{"x":{"field":"x","type":"quantitative"},"y":{"field":"med","type":"quantitative"}}},
      {"data":{"values":[{"x":2.81,"v":0.562},{"x":2.81,"v":0.077},{"x":3.81,"v":0.587},{"x":4.19,"v":0.652}]},"mark":{"type":"circle","size":11,"color":"#000","opacity":1},"encoding":{"x":{"field":"x","type":"quantitative"},"y":{"field":"v","type":"quantitative"}}},
      {"data":{"values":[{"x1":0.81,"x2":1.19,"xm":1,"y":0.823,"yt":0.778,"label":"0.248"},{"x1":1.81,"x2":2.19,"xm":2,"y":0.823,"yt":0.778,"label":"0.014"},{"x1":2.81,"x2":3.19,"xm":3,"y":0.823,"yt":0.778,"label":"0.190"},{"x1":3.81,"x2":4.19,"xm":4,"y":0.823,"yt":0.778,"label":"0.843"}]},
       "layer":[
        {"mark":{"type":"rule","color":"#333","strokeWidth":1},"encoding":{"x":{"field":"x1","type":"quantitative"},"x2":{"field":"x2"},"y":{"field":"y","type":"quantitative"}}},
        {"mark":{"type":"rule","color":"#333","strokeWidth":1},"encoding":{"x":{"field":"x1","type":"quantitative"},"y":{"field":"y","type":"quantitative"},"y2":{"field":"yt"}}},
        {"mark":{"type":"rule","color":"#333","strokeWidth":1},"encoding":{"x":{"field":"x2","type":"quantitative"},"y":{"field":"y","type":"quantitative"},"y2":{"field":"yt"}}},
        {"mark":{"type":"text","baseline":"bottom","dy":-4,"fontSize":10,"color":"#222"},"encoding":{"x":{"field":"xm","type":"quantitative"},"y":{"field":"y","type":"quantitative"},"text":{"field":"label"}}}]}
     ]}
   ],"spacing":107,"bounds":"flush"},
   {"hconcat":[
    {"width":192,"height":166,"title":{"text":"J","dx":-35,"dy":11},
     "data":{"values":[{"g":"SHH","x":1,"lo":0.185,"q1":0.378,"med":0.442,"q3":0.52,"hi":0.636},{"g":"Group3","x":2,"lo":0.051,"q1":0.181,"med":0.265,"q3":0.381,"hi":0.575},{"g":"Group4","x":3,"lo":0.109,"q1":0.249,"med":0.309,"q3":0.365,"hi":0.5},{"g":"WNT","x":4,"lo":0.251,"q1":0.309,"med":0.358,"q3":0.394,"hi":0.4}]},
     "layer":[
      {"mark":{"type":"rule","color":"#111","strokeWidth":1.3},"encoding":{"x":{"field":"x","type":"quantitative","scale":{"domain":[0.4,4.6],"nice":false,"zero":false},"axis":{"values":[1,2,3,4],"labelExpr":"['','SHH','Group3','Group4','WNT'][datum.value]","title":null,"labelFontSize":8}},"y":{"field":"lo","type":"quantitative","scale":{"domain":[0.005,1.057],"nice":false,"zero":false},"axis":{"values":[0.25,0.5,0.75,1],"format":".2f","title":"mDNAsi","labelFontSize":7.5,"titleFontSize":9,"titlePadding":2}},"y2":{"field":"hi"}}},
      {"mark":{"type":"bar","width":33,"stroke":"#111","strokeWidth":1.3,"opacity":1},"encoding":{"x":{"field":"x","type":"quantitative"},"y":{"field":"q1","type":"quantitative"},"y2":{"field":"q3"},"color":{"field":"g","type":"nominal","scale":{"domain":["SHH","Group3","Group4","WNT"],"range":["#2a55a4","#e6b01e","#7a7a7a","#c8262c"]},"legend":null}}},
      {"mark":{"type":"tick","orient":"horizontal","size":33,"thickness":2.5,"color":"#000","opacity":1},"encoding":{"x":{"field":"x","type":"quantitative"},"y":{"field":"med","type":"quantitative"}}},
      {"data":{"values":[{"x":3,"v":0.562},{"x":3,"v":0.077},{"x":4,"v":0.584}]},"mark":{"type":"circle","size":9,"color":"#000","opacity":1},"encoding":{"x":{"field":"x","type":"quantitative"},"y":{"field":"v","type":"quantitative"}}},
      {"data":{"values":[{"x1":1,"x2":2,"xm":1.5,"y":0.66,"yt":0.639,"label":"2.3e−05"},{"x1":1,"x2":3,"xm":2,"y":0.731,"yt":0.71,"label":"6e−07"},{"x1":1,"x2":4,"xm":2.5,"y":0.805,"yt":0.784,"label":"0.13"},{"x1":2,"x2":3,"xm":2.5,"y":0.881,"yt":0.86,"label":"0.1"},{"x1":2,"x2":4,"xm":3,"y":0.948,"yt":0.927,"label":"0.1"},{"x1":3,"x2":4,"xm":3.5,"y":1.022,"yt":1.001,"label":"0.19"}]},
       "layer":[
        {"mark":{"type":"rule","color":"#333","strokeWidth":1},"encoding":{"x":{"field":"x1","type":"quantitative"},"x2":{"field":"x2"},"y":{"field":"y","type":"quantitative"}}},
        {"mark":{"type":"rule","color":"#333","strokeWidth":1},"encoding":{"x":{"field":"x1","type":"quantitative"},"y":{"field":"y","type":"quantitative"},"y2":{"field":"yt"}}},
        {"mark":{"type":"rule","color":"#333","strokeWidth":1},"encoding":{"x":{"field":"x2","type":"quantitative"},"y":{"field":"y","type":"quantitative"},"y2":{"field":"yt"}}},
        {"mark":{"type":"text","baseline":"bottom","dy":-0.5,"fontSize":8.5,"color":"#222"},"encoding":{"x":{"field":"xm","type":"quantitative"},"y":{"field":"y","type":"quantitative"},"text":{"field":"label"}}}]},
      {"data":{"values":[{"x":0.99,"y":1.037,"t":"Metastatic MB"}]},"mark":{"type":"text","align":"left","baseline":"middle","fontSize":8.5,"color":"#222"},"encoding":{"x":{"field":"x","type":"quantitative"},"y":{"field":"y","type":"quantitative"},"text":{"field":"t"}}},
      {"data":{"values":[{"x":2.15,"y":0.046,"p":"P","t":"= 2.1e−06"}]},
       "layer":[
        {"mark":{"type":"text","align":"left","baseline":"middle","fontSize":9,"fontStyle":"italic","color":"#111"},"encoding":{"x":{"field":"x","type":"quantitative"},"y":{"field":"y","type":"quantitative"},"text":{"field":"p"}}},
        {"mark":{"type":"text","align":"left","baseline":"middle","fontSize":9,"dx":8.5,"color":"#111"},"encoding":{"x":{"field":"x","type":"quantitative"},"y":{"field":"y","type":"quantitative"},"text":{"field":"t"}}}]}
     ]},
    {"width":195,"height":170,"title":{"text":"K","dx":-27,"dy":9.5},
     "data":{"values":[{"g":"SHH","x":1,"lo":0.039,"q1":0.367,"med":0.481,"q3":0.599,"hi":0.804},{"g":"Group3","x":2,"lo":0.0,"q1":0.249,"med":0.365,"q3":0.438,"hi":0.61},{"g":"Group4","x":3,"lo":0.142,"q1":0.268,"med":0.319,"q3":0.399,"hi":0.522},{"g":"WNT","x":4,"lo":0.188,"q1":0.3,"med":0.352,"q3":0.399,"hi":0.54}]},
     "layer":[
      {"mark":{"type":"rule","color":"#111","strokeWidth":1.3},"encoding":{"x":{"field":"x","type":"quantitative","scale":{"domain":[0.4,4.6],"nice":false,"zero":false},"axis":{"values":[1,2,3,4],"labelExpr":"['','SHH','Group3','Group4','WNT'][datum.value]","title":null,"labelFontSize":8}},"y":{"field":"lo","type":"quantitative","scale":{"domain":[-0.07,1.409],"nice":false,"zero":false},"axis":{"values":[0,0.5,1],"format":".1f","title":"mDNAsi","labelFontSize":7.5,"titleFontSize":9,"titlePadding":2}},"y2":{"field":"hi"}}},
      {"mark":{"type":"bar","width":33,"stroke":"#111","strokeWidth":1.3,"opacity":1},"encoding":{"x":{"field":"x","type":"quantitative"},"y":{"field":"q1","type":"quantitative"},"y2":{"field":"q3"},"color":{"field":"g","type":"nominal","scale":{"domain":["SHH","Group3","Group4","WNT"],"range":["#2a55a4","#e6b01e","#7a7a7a","#c8262c"]},"legend":null}}},
      {"mark":{"type":"tick","orient":"horizontal","size":33,"thickness":2.5,"color":"#000","opacity":1},"encoding":{"x":{"field":"x","type":"quantitative"},"y":{"field":"med","type":"quantitative"}}},
      {"data":{"values":[{"x":4,"v":0.652}]},"mark":{"type":"circle","size":9,"color":"#000","opacity":1},"encoding":{"x":{"field":"x","type":"quantitative"},"y":{"field":"v","type":"quantitative"}}},
      {"data":{"values":[{"x1":1,"x2":2,"xm":1.5,"y":0.858,"yt":0.828,"label":"2.6e−08"},{"x1":1,"x2":3,"xm":2,"y":0.945,"yt":0.915,"label":"< 2.2e−16"},{"x1":1,"x2":4,"xm":2.5,"y":1.046,"yt":1.016,"label":"2.5e−06"},{"x1":2,"x2":3,"xm":2.5,"y":1.133,"yt":1.103,"label":"0.16"},{"x1":2,"x2":4,"xm":3,"y":1.229,"yt":1.199,"label":"0.75"},{"x1":3,"x2":4,"xm":3.5,"y":1.322,"yt":1.292,"label":"0.079"}]},
       "layer":[
        {"mark":{"type":"rule","color":"#333","strokeWidth":1},"encoding":{"x":{"field":"x1","type":"quantitative"},"x2":{"field":"x2"},"y":{"field":"y","type":"quantitative"}}},
        {"mark":{"type":"rule","color":"#333","strokeWidth":1},"encoding":{"x":{"field":"x1","type":"quantitative"},"y":{"field":"y","type":"quantitative"},"y2":{"field":"yt"}}},
        {"mark":{"type":"rule","color":"#333","strokeWidth":1},"encoding":{"x":{"field":"x2","type":"quantitative"},"y":{"field":"y","type":"quantitative"},"y2":{"field":"yt"}}},
        {"mark":{"type":"text","baseline":"bottom","dy":-0.5,"fontSize":8.5,"color":"#222"},"encoding":{"x":{"field":"xm","type":"quantitative"},"y":{"field":"y","type":"quantitative"},"text":{"field":"label"}}}]},
      {"data":{"values":[{"x":0.68,"y":1.365,"t":"Non−metastatic MB"}]},"mark":{"type":"text","align":"left","baseline":"middle","fontSize":8.5,"color":"#222"},"encoding":{"x":{"field":"x","type":"quantitative"},"y":{"field":"y","type":"quantitative"},"text":{"field":"t"}}},
      {"data":{"values":[{"x":2.02,"y":0.0,"p":"P","t":"< 2.2e−16"}]},
       "layer":[
        {"mark":{"type":"text","align":"left","baseline":"middle","fontSize":9,"fontStyle":"italic","color":"#111"},"encoding":{"x":{"field":"x","type":"quantitative"},"y":{"field":"y","type":"quantitative"},"text":{"field":"p"}}},
        {"mark":{"type":"text","align":"left","baseline":"middle","fontSize":9,"dx":8.5,"color":"#111"},"encoding":{"x":{"field":"x","type":"quantitative"},"y":{"field":"y","type":"quantitative"},"text":{"field":"t"}}}]}
     ]},
    {"width":194,"height":166,"title":{"text":"L","dx":-40,"dy":12},
     "data":{"values":[{"m":"Metastatic","x":1,"lo":0.046,"q1":0.24,"med":0.315,"q3":0.396,"hi":0.612},{"m":"Non−metastatic","x":2,"lo":0.04,"q1":0.288,"med":0.37,"q3":0.456,"hi":0.7}]},
     "layer":[
      {"mark":{"type":"rule","color":"#111","strokeWidth":1.3},"encoding":{"x":{"field":"x","type":"quantitative","scale":{"domain":[0.4,2.6],"nice":false,"zero":false},"axis":{"values":[1,2],"labelExpr":"['','Metastatic','Non−metastatic'][datum.value]","title":null,"labelFontSize":7.5}},"y":{"field":"lo","type":"quantitative","scale":{"domain":[-0.05,0.833],"nice":false,"zero":false},"axis":{"values":[0,0.2,0.4,0.6,0.8],"format":".1f","title":"mDNAsi","labelFontSize":7.5,"titleFontSize":9,"titlePadding":2}},"y2":{"field":"hi"}}},
      {"mark":{"type":"bar","width":36,"stroke":"#111","strokeWidth":1.3,"opacity":1},"encoding":{"x":{"field":"x","type":"quantitative"},"y":{"field":"q1","type":"quantitative"},"y2":{"field":"q3"},"color":{"field":"m","type":"nominal","scale":{"domain":["Metastatic","Non−metastatic"],"range":["#2a55a4","#e6b01e"]},"legend":null}}},
      {"mark":{"type":"tick","orient":"horizontal","size":36,"thickness":2.5,"color":"#000","opacity":1},"encoding":{"x":{"field":"x","type":"quantitative"},"y":{"field":"med","type":"quantitative"}}},
      {"data":{"values":[{"x":1,"v":0.642},{"x":2,"v":0.806},{"x":2,"v":0.762},{"x":2,"v":0.74},{"x":2,"v":0.73},{"x":2,"v":0.718},{"x":2,"v":0.71},{"x":2,"v":0.02},{"x":2,"v":0.01},{"x":2,"v":0.0}]},"mark":{"type":"circle","size":9,"color":"#000","opacity":1},"encoding":{"x":{"field":"x","type":"quantitative"},"y":{"field":"v","type":"quantitative"}}},
      {"data":{"values":[{"x":1.18,"y":0.0,"p":"P","t":"= 4.6e−06"}]},
       "layer":[
        {"mark":{"type":"text","align":"left","baseline":"middle","fontSize":9,"fontStyle":"italic","color":"#111"},"encoding":{"x":{"field":"x","type":"quantitative"},"y":{"field":"y","type":"quantitative"},"text":{"field":"p"}}},
        {"mark":{"type":"text","align":"left","baseline":"middle","fontSize":9,"dx":8.5,"color":"#111"},"encoding":{"x":{"field":"x","type":"quantitative"},"y":{"field":"y","type":"quantitative"},"text":{"field":"t"}}}]}
     ]}
   ],"spacing":43,"bounds":"flush"}
  ],"spacing":17}
 ],"spacing":20}
 ],"spacing":8.5}
],"spacing":16.5}
]
}
